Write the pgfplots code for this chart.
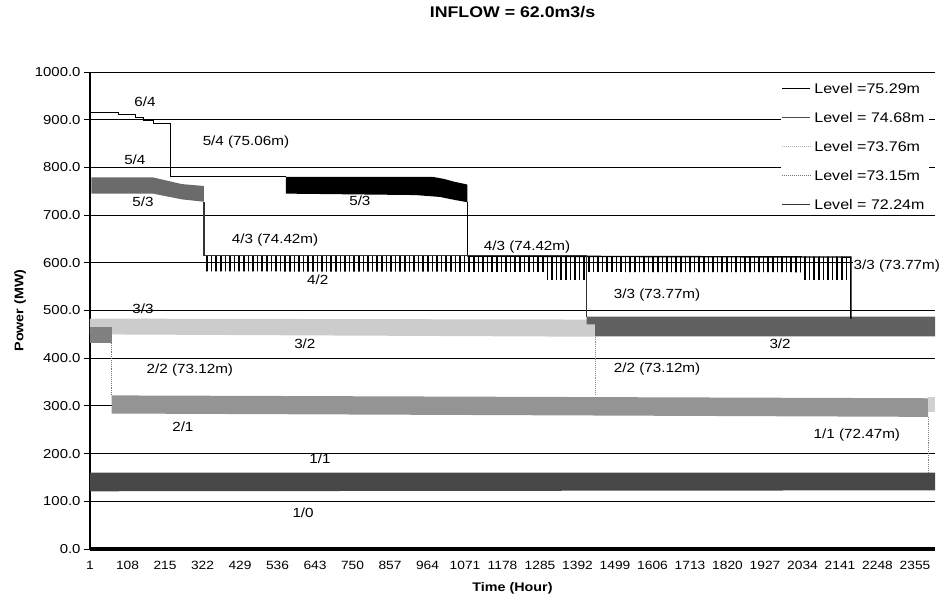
\documentclass[border=0pt]{standalone}
\usepackage{fontspec}
\setmainfont{Liberation Sans}[FakeStretch=1.15]
\usepackage{pgfplots}
\pgfplotsset{compat=1.18}
\usetikzlibrary{patterns.meta}
\begin{document}
\begin{tikzpicture}[lbl/.style={font=\fontsize{13.3}{15}\selectfont, inner sep=1bp}]
\useasboundingbox (-90bp,-52bp) rectangle (853bp,549bp);
\begin{axis}[
  scale only axis, width=845bp, height=477bp,
  at={(0,0)}, anchor=south west,
  xmin=1, xmax=2412, ymin=0, ymax=1000,
  clip=false,
  axis x line=bottom, axis y line=left,
  axis line style={-},
  x axis line style={line width=3bp},
  y axis line style={line width=1.6bp},
  ytick={0,100,...,1000},
  xtick={1,108,...,2355},
  scaled x ticks=false, scaled y ticks=false,
  ymajorgrids, grid style={black, line width=0.8bp},
  xtick style={draw=none},
  ytick style={black, line width=0.8bp},
  tick align=outside, major tick length=6bp,
  /pgf/number format/assume math mode=true,
  /pgf/number format/1000 sep={},
  y tick label style={font=\fontsize{13}{15}\selectfont, /pgf/number format/fixed, /pgf/number format/fixed zerofill, /pgf/number format/precision=1, /pgf/number format/1000 sep={}},
  x tick label style={font=\fontsize{12}{14}\selectfont, /pgf/number format/1000 sep={}, yshift=-3bp},
  title={INFLOW = 62.0m3/s},
  title style={font=\bfseries\fontsize{15.5}{17}\selectfont, at={(0.5,1.113)}, anchor=center},
  xlabel={Time (Hour)},
  xlabel style={font=\bfseries\fontsize{12.5}{14}\selectfont, at={(0.5,-0.082)}, anchor=center},
  ylabel={Power (MW)},
  ylabel style={font=\bfseries\fontsize{12.5}{14}\selectfont, at={(-0.0828,0.5)}, anchor=center},
  legend cell align=left,
  legend style={draw=none, fill=white, at={(0.818,0.984)}, anchor=north west,
    font=\fontsize{14}{16}\selectfont, row sep=11bp, inner sep=0pt,
    nodes={text height=10bp, text depth=0bp, inner sep=4bp}},
  legend image code/.code={\draw[#1] (0bp,0bp) -- (28bp,0bp);},
]
\addlegendimage{black, line width=1bp}
\addlegendentry{Level =75.29m}
\addlegendimage{black!70, line width=1bp}
\addlegendentry{Level = 74.68m}
\addlegendimage{black!30, densely dotted, line width=1bp}
\addlegendentry{Level =73.76m}
\addlegendimage{black!55, densely dotted, line width=1bp}
\addlegendentry{Level =73.15m}
\addlegendimage{black!80, line width=1bp}
\addlegendentry{Level = 72.24m}

% 1/1 band (72.24m)
\addplot[forget plot, draw=none, fill=black!72] coordinates {(1,160) (2412,160) (2412,123) (1,121)};
% 2/1 band
\addplot[forget plot, draw=none, fill=black!42] coordinates {(63,322) (2392,316) (2392,277) (63,284)};
\addplot[forget plot, draw=none, fill=black!18] coordinates {(2392,318) (2412,318) (2412,288) (2392,288)};
% 3/2 light band (73.76m)
\addplot[forget plot, draw=none, fill=black!20] coordinates {(1,483) (1442,481) (1442,445) (1,450)};
% 3/2 dark piece (73.15m)
\addplot[forget plot, draw=none, fill=black!50] coordinates {(1,466) (63,466) (63,432) (1,432)};
% 3/2 right dark band
\addplot[forget plot, draw=none, fill=black!62] coordinates {(1418,487) (2412,487) (2412,446) (1442,446) (1442,471) (1418,471)};
% dotted drops
\addplot[forget plot, black!55, densely dotted, line width=0.9bp] coordinates {(63,432) (63,322)};
\addplot[forget plot, black!45, densely dotted, line width=0.9bp] coordinates {(1442,445) (1442,322)};
\addplot[forget plot, black!50, densely dotted, line width=0.9bp] coordinates {(2392,277) (2392,160)};
% 5/3 gray band (74.68m)
\addplot[forget plot, draw=none, fill=black!58] coordinates {(5,779) (181,779) (263,765) (326,761) (326,728) (263,733) (181,745) (5,745)};
% 5/3 black band (75.29m)
\addplot[forget plot, draw=none, fill=black] coordinates {(560,780) (980,780) (1010,776) (1040,770) (1078,764) (1078,727) (1040,732) (1000,738) (930,742) (560,745)};
% comb 4/2
\addplot[forget plot, draw=none, pattern={Lines[angle=90,distance=4.6bp,line width=1.5bp]}, pattern color=black] coordinates {(326,616) (2172,613) (2172,580) (326,582)};
\addplot[forget plot, draw=none, pattern={Lines[angle=90,distance=4.6bp,line width=1.5bp]}, pattern color=black] coordinates {(1300,581) (1418,581) (1418,565) (1300,565)};
\addplot[forget plot, draw=none, pattern={Lines[angle=90,distance=4.6bp,line width=1.5bp]}, pattern color=black] coordinates {(2030,581) (2172,581) (2172,566) (2030,566)};
% 75.29m line
\addplot[forget plot, black, line width=1bp] coordinates {(1,915) (81,915) (81,910) (130,910) (130,905) (153,905) (153,898) (181,898) (181,893) (232,893) (232,780) (560,780)};
\addplot[forget plot, black, line width=1bp] coordinates {(1078,727) (1078,614)};
\addplot[forget plot, black, line width=1.4bp] coordinates {(1078,614) (2172,612) (2172,483)};
% 74.68m line
\addplot[forget plot, black!80, line width=1.4bp] coordinates {(326,728) (326,615) (1418,615) (1418,487)};

% labels
\node[lbl] at (axis cs:158,937) {6/4};
\node[lbl] at (axis cs:446,853) {5/4 (75.06m)};
\node[lbl] at (axis cs:129,817) {5/4};
\node[lbl] at (axis cs:152,727) {5/3};
\node[lbl] at (axis cs:771,729) {5/3};
\node[lbl] at (axis cs:529,648) {4/3 (74.42m)};
\node[lbl] at (axis cs:1248,632) {4/3 (74.42m)};
\node[lbl] at (axis cs:651,564) {4/2};
\node[lbl, fill=white] at (axis cs:2303,594) {3/3 (73.77m)};
\node[lbl] at (axis cs:152,504) {3/3};
\node[lbl] at (axis cs:1619,533) {3/3 (73.77m)};
\node[lbl] at (axis cs:614,430) {3/2};
\node[lbl] at (axis cs:1970,430) {3/2};
\node[lbl] at (axis cs:286,375) {2/2 (73.12m)};
\node[lbl] at (axis cs:1619,377) {2/2 (73.12m)};
\node[lbl] at (axis cs:266,257) {2/1};
\node[lbl] at (axis cs:2189,239) {1/1 (72.47m)};
\node[lbl] at (axis cs:657,189) {1/1};
\node[lbl] at (axis cs:609,76) {1/0};
\end{axis}
\end{tikzpicture}
\end{document}
